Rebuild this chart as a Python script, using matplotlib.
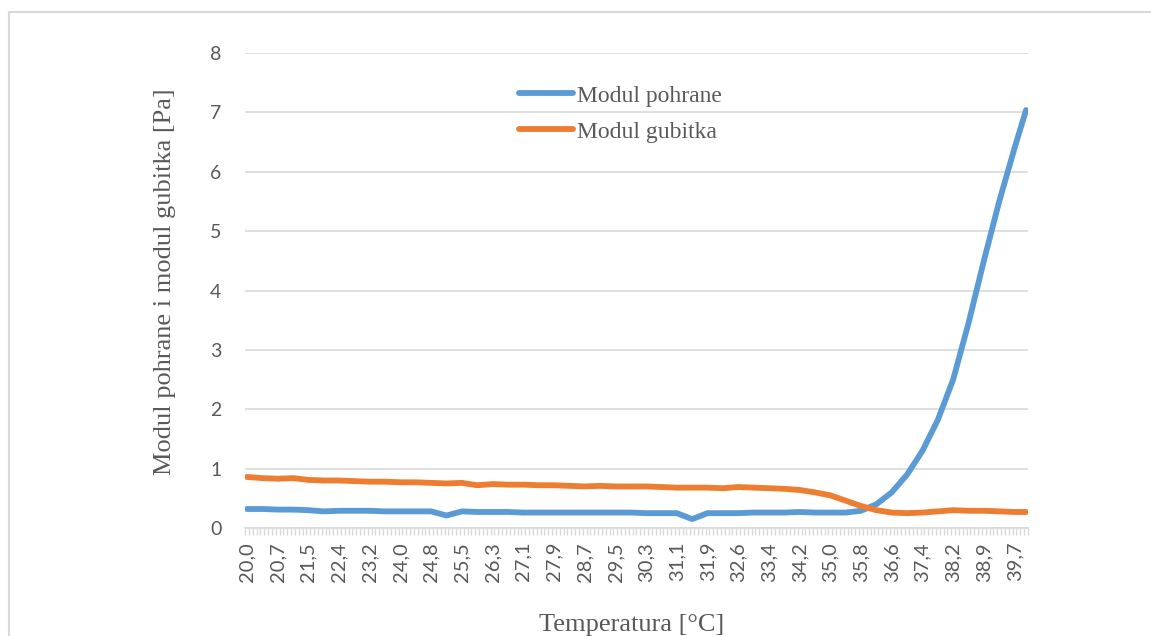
import numpy as np
import matplotlib.pyplot as plt
from matplotlib.lines import Line2D

# category axis labels (every 8th measurement point)
temp_labels = ['20,0', '20,7', '21,5', '22,4', '23,2', '24,0', '24,8', '25,5',
               '26,3', '27,1', '27,9', '28,7', '29,5', '30,3', '31,1', '31,9',
               '32,6', '33,4', '34,2', '35,0', '35,8', '36,6', '37,4', '38,2',
               '38,9', '39,7']
n_points = 204

# values read every 4th measurement point, plus the last point
sample_idx = list(range(0, 201, 4)) + [203]
modul_pohrane = [0.32, 0.32, 0.31, 0.31, 0.30, 0.28, 0.29, 0.29, 0.29, 0.28,
                 0.28, 0.28, 0.28, 0.21, 0.28, 0.27, 0.27, 0.27, 0.26, 0.26,
                 0.26, 0.26, 0.26, 0.26, 0.26, 0.26, 0.25, 0.25, 0.25, 0.15,
                 0.25, 0.25, 0.25, 0.26, 0.26, 0.26, 0.27, 0.26, 0.26, 0.26,
                 0.29, 0.40, 0.60, 0.90, 1.30, 1.82, 2.50, 3.45, 4.50, 5.50,
                 6.40, 7.04]
modul_gubitka = [0.86, 0.84, 0.83, 0.84, 0.81, 0.80, 0.80, 0.79, 0.78, 0.78,
                 0.77, 0.77, 0.76, 0.75, 0.76, 0.72, 0.74, 0.73, 0.73, 0.72,
                 0.72, 0.71, 0.70, 0.71, 0.70, 0.70, 0.70, 0.69, 0.68, 0.68,
                 0.68, 0.67, 0.69, 0.68, 0.67, 0.66, 0.64, 0.60, 0.55, 0.46,
                 0.37, 0.30, 0.26, 0.25, 0.26, 0.28, 0.30, 0.29, 0.29, 0.28,
                 0.27, 0.27]

blue = '#5B9BD5'
orange = '#ED7D31'
grid_c = '#D9D9D9'
text_c = '#595959'

fig = plt.figure(figsize=(11.51, 6.36), dpi=100)
ax = fig.add_axes([245 / 1151, 1 - 528 / 636, 783 / 1151, 475 / 636])

ax.plot(sample_idx, modul_pohrane, color=blue, lw=4.2, solid_capstyle='round',
        solid_joinstyle='round', label='Modul pohrane')
ax.plot(sample_idx, modul_gubitka, color=orange, lw=4.2, solid_capstyle='round',
        solid_joinstyle='round', label='Modul gubitka')

ax.set_xlim(-0.5, n_points - 0.5)
ax.set_ylim(0, 8)
ax.set_yticks(range(0, 9))
ax.yaxis.grid(True, color=grid_c, lw=1.2)
ax.set_axisbelow(True)
for s in ['top', 'right', 'left']:
    ax.spines[s].set_visible(False)
ax.spines['bottom'].set_color(grid_c)
ax.spines['bottom'].set_linewidth(1.2)

ax.set_xticks(range(0, len(temp_labels) * 8, 8))
ax.set_xticklabels(temp_labels, rotation=90, fontfamily='Lato', fontsize=14.5,
                   color=text_c)
ax.set_xticks(np.arange(-0.5, n_points, 1), minor=True)
ax.tick_params(axis='x', which='major', length=0, pad=10)
ax.tick_params(axis='x', which='minor', length=5, color=grid_c, width=1)
ax.tick_params(axis='y', length=0, pad=17, labelsize=14, labelcolor=text_c)
for t in ax.get_yticklabels():
    t.set_fontfamily('Lato')

fig.text(165 / 1151, 1 - 282 / 636, 'Modul pohrane i modul gubitka [Pa]',
         rotation=90, ha='center', va='center', fontsize=19,
         family='Liberation Serif', color=text_c)
fig.text(632 / 1151, 1 - 625 / 636, 'Temperatura [°C]', ha='center',
         va='center', fontsize=19, family='Liberation Serif', color=text_c)

leg = ax.legend(loc='upper left', bbox_to_anchor=(519 / 1151, 1 - 85 / 636),
                bbox_transform=fig.transFigure, frameon=False, borderpad=0,
                borderaxespad=0, handlelength=2.3, handletextpad=0.17,
                labelspacing=0.62, prop={'family': 'Liberation Serif', 'size': 17})
for t in leg.get_texts():
    t.set_color(text_c)

# chart area border
fig.add_artist(Line2D([9 / 1151, 1], [1 - 11.5 / 636] * 2, color=grid_c, lw=1.5))
fig.add_artist(Line2D([9 / 1151] * 2, [0, 1 - 11.5 / 636], color=grid_c, lw=1.5))

fig.savefig('out.png', dpi=100)
